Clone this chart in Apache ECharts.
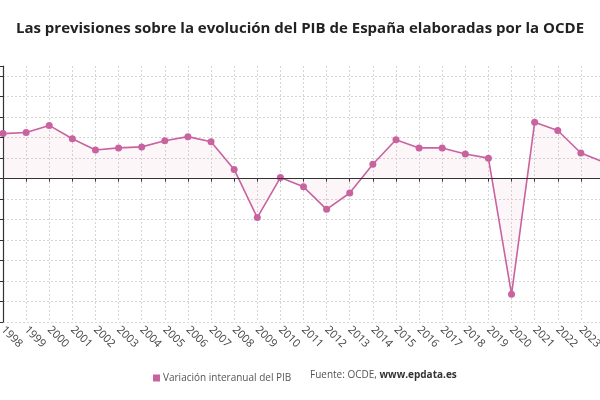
<!DOCTYPE html>
<html>
<head>
<meta charset="utf-8">
<script src="https://cdn.jsdelivr.net/npm/echarts@6/dist/echarts.min.js"></script>
<style>
    html, body { margin: 0; padding: 0; background: #fff; }
    #chart { width: 600px; height: 400px; }
</style>
</head>
<body>
<div id="chart"></div>
<script>
// años y variación del PIB (%)
const years = ['1998', '1999', '2000', '2001', '2002', '2003', '2004', '2005', '2006', '2007',
    '2008', '2009', '2010', '2011', '2012', '2013', '2014', '2015', '2016', '2017',
    '2018', '2019', '2020', '2021', '2022', '2023', '2024'];
const pibValues = [4.4, 4.5, 5.2, 3.9, 2.8, 3.0, 3.1, 3.7, 4.1, 3.6,
    0.9, -3.8, 0.1, -0.8, -3.0, -1.4, 1.4, 3.8, 3.0, 3.0,
    2.4, 2.0, -11.3, 5.5, 4.7, 2.5, 1.6];
const seriesName = 'Variación interanual del PIB';

const color = '#c9639f';

const myChart = echarts.init(document.getElementById('chart'));

const option = {
    animation: false,
    textStyle: { fontFamily: '"Open Sans", "Noto Sans", sans-serif' },
    title: {
        text: 'Las previsiones sobre la evolución del PIB de España elaboradas por la OCDE',
        left: 'center',
        top: 16,
        textStyle: {
            fontSize: 15,
            fontWeight: 'bold',
            color: '#222',
            fontFamily: '"Open Sans", "Noto Sans", sans-serif',
        },
    },
    legend: {
        data: [seriesName],
        left: 148,
        top: 368,
        icon: 'rect',
        itemWidth: 7,
        itemHeight: 7,
        itemGap: 5,
        textStyle: { fontSize: 10, color: '#555', padding: [0, 0, 0, -2] },
    },
    graphic: [
        {
            type: 'text',
            left: 310,
            top: 370,
            style: {
                text: '{a|Fuente: OCDE, }{b|www.epdata.es}',
                rich: {
                    a: { fontSize: 10, fill: '#555', fontFamily: '"Open Sans", sans-serif' },
                    b: { fontSize: 10, fill: '#333', fontWeight: 'bold', fontFamily: '"Open Sans", sans-serif' },
                },
            },
        },
    ],
    grid: {
        left: 3,
        top: 66,
        width: 601,
        height: 256,
        containLabel: false,
        outerBoundsMode: 'none',
    },
    xAxis: {
        type: 'category',
        data: years,
        boundaryGap: false,
        axisLine: { show: true, lineStyle: { color: '#333', width: 1.2 } },
        axisTick: { show: true, length: 3, lineStyle: { color: '#333' } },
        axisLabel: {
            rotate: -45,
            interval: 0,
            fontSize: 11,
            color: '#444',
            margin: 6,
        },
        splitLine: {
            show: true,
            lineStyle: { color: '#d6d6d6', type: [2, 2] },
        },
    },
    yAxis: {
        type: 'value',
        min: -14,
        max: 11,
        interval: 2,
        axisLine: { show: true, lineStyle: { color: '#333', width: 1.2 } },
        axisTick: { show: true, length: 3, lineStyle: { color: '#333' } },
        axisLabel: { show: false },
        splitLine: {
            show: true,
            showMaxLine: false,
            lineStyle: { color: '#d6d6d6', type: [2, 2] },
        },
    },
    series: [
        {
            name: seriesName,
            type: 'line',
            data: pibValues,
            symbol: 'circle',
            symbolSize: 7,
            itemStyle: { color: color },
            lineStyle: { color: color, width: 1.6 },
            areaStyle: { color: color, opacity: 0.06, origin: 0 },
            markLine: {
                silent: true,
                symbol: 'none',
                label: { show: false },
                lineStyle: { color: '#333', type: 'solid', width: 1.2 },
                data: [{ yAxis: 0 }],
            },
        },
    ],
};

myChart.setOption(option);
</script>
</body>
</html>
